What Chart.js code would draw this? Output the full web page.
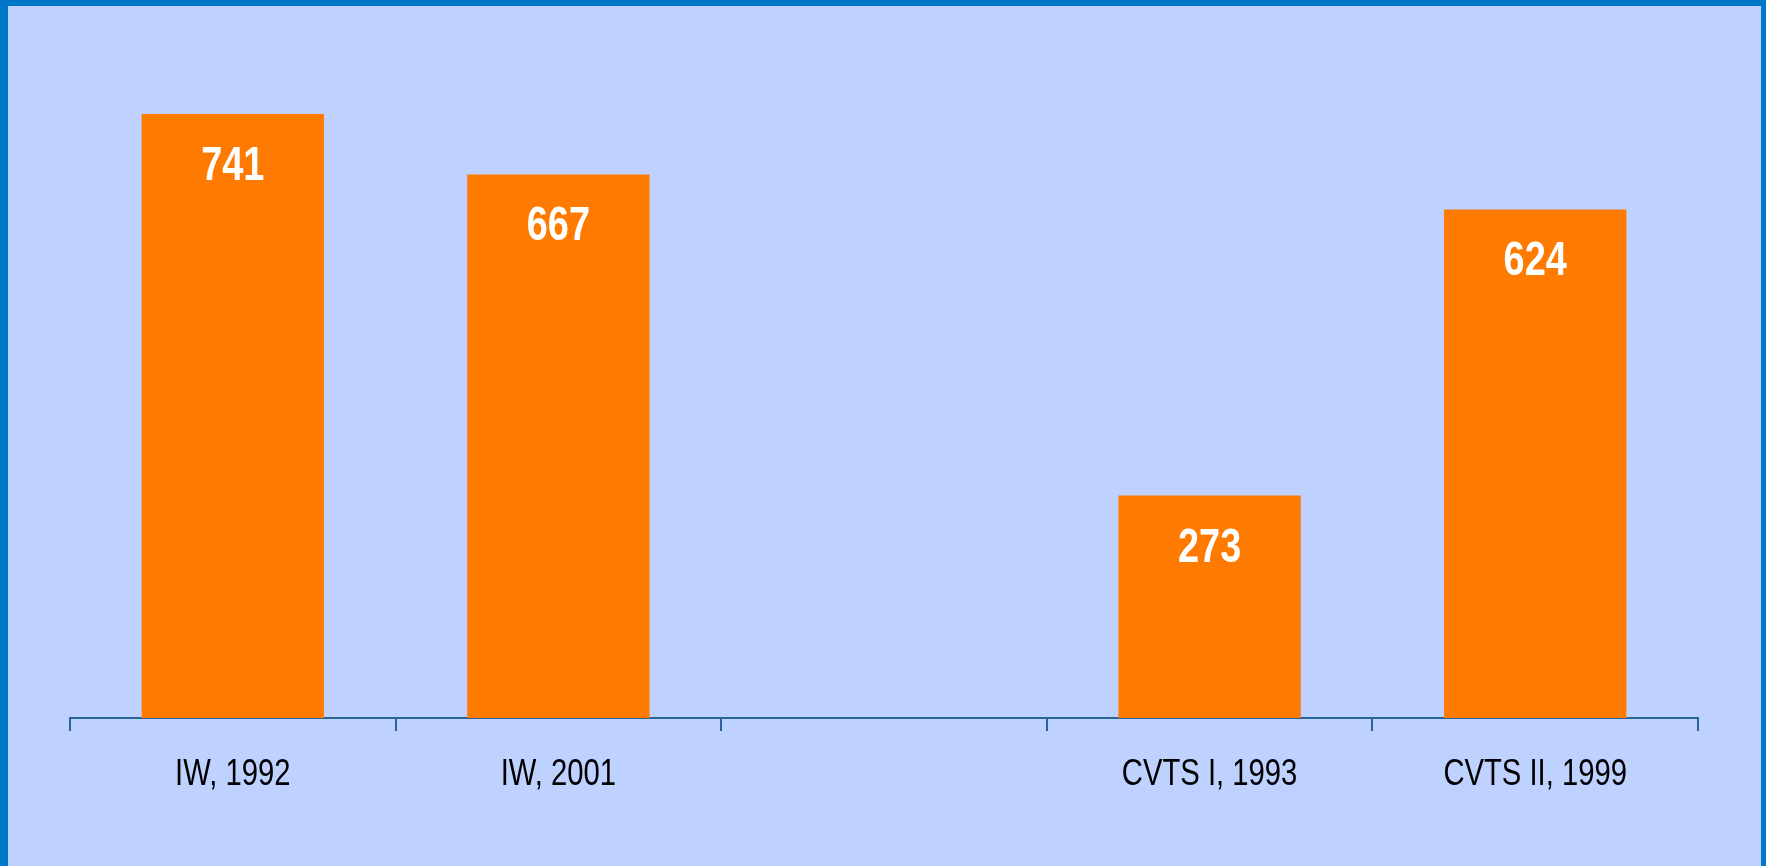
<!DOCTYPE html>
<html>
<head>
  <meta charset="utf-8">
  <script src="https://cdn.jsdelivr.net/npm/chart.js"></script>
  <style>
    body { margin: 0; background: #0077c8; width: 1766px; height: 866px; overflow: hidden; }
    #box { position: absolute; left: 8px; top: 6px; width: 1753px; height: 860px; background: #bfd1ff; }
  </style>
</head>
<body>
  <div id="box"><canvas id="myChart" width="1753" height="860"></canvas></div>

  <script>
    const categories = ['IW, 1992', 'IW, 2001', '', 'CVTS I, 1993', 'CVTS II, 1999'];
    const values = [741, 667, null, 273, 624];

    const labelFont = "'Liberation Sans', Arial, sans-serif";
    const narrow = 0.79; // squeeze text horizontally, the original uses a narrow face

    function narrowText(ctx, text, x, y) {
      ctx.save();
      ctx.translate(x, y);
      ctx.scale(narrow, 1);
      ctx.fillText(text, 0, 0);
      ctx.restore();
    }

    // value inside each bar + category names under the axis
    const textLayer = {
      id: 'textLayer',
      afterDraw(chart) {
        const ctx = chart.ctx;
        const meta = chart.getDatasetMeta(0);
        const xs = chart.scales.x;
        ctx.save();
        ctx.textAlign = 'center';
        ctx.textBaseline = 'alphabetic';

        ctx.fillStyle = '#ffffff';
        ctx.font = 'bold 48px ' + labelFont;
        meta.data.forEach((bar, i) => {
          if (values[i] == null) return;
          narrowText(ctx, String(values[i]), bar.x, bar.y + 66);
        });

        ctx.fillStyle = '#000000';
        ctx.font = '37px ' + labelFont;
        categories.forEach((c, i) => {
          if (!c) return;
          narrowText(ctx, c, xs.getPixelForTick(i), xs.top + 67);
        });
        ctx.restore();
      }
    };

    const ctx = document.getElementById('myChart').getContext('2d');
    new Chart(ctx, {
      type: 'bar',
      data: {
        labels: categories,
        datasets: [{
          data: values,
          backgroundColor: '#ff7a00',
          borderWidth: 0,
          barPercentage: 0.56,
          categoryPercentage: 1
        }]
      },
      options: {
        responsive: false,
        animation: false,
        layout: { padding: { left: 62, right: 63, top: 60, bottom: 0 } },
        plugins: { legend: { display: false }, tooltip: { enabled: false } },
        scales: {
          x: {
            afterFit: s => { s.height = 148; },
            grid: {
              offset: true,
              drawOnChartArea: false,
              tickLength: 13,
              color: '#2a6399',
              lineWidth: 2
            },
            border: { color: '#2a6399', width: 2 },
            ticks: { display: false }
          },
          y: {
            display: false,
            min: 0,
            max: 800
          }
        }
      },
      plugins: [textLayer]
    });
  </script>
</body>
</html>
